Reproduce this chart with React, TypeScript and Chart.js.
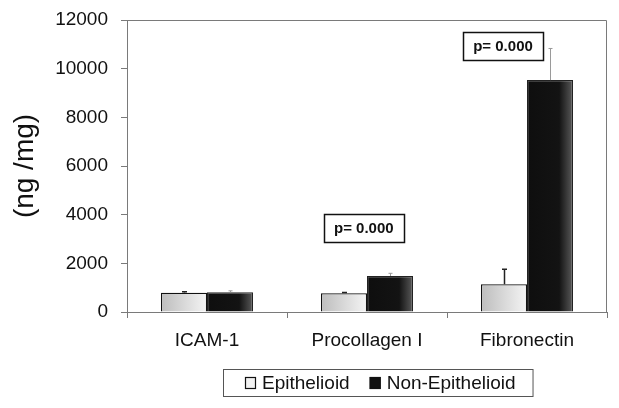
import React, { useEffect, useRef } from "react";
import { Chart, registerables } from "chart.js";

Chart.register(...registerables);

const categories = ["ICAM-1", "Procollagen I", "Fibronectin"];
const seriesNames = ["Epithelioid", "Non-Epithelioid"];
const epithelioid = [790, 770, 1140];
const nonEpithelioid = [810, 1480, 9530];
const epithelioidErr = [40, 35, 620];
const nonEpithelioidErr = [60, 110, 1300];
const yTickValues = [0, 2000, 4000, 6000, 8000, 10000, 12000];
const pLabels = ["p= 0.000", "p= 0.000"];
const pCategoryPos = [0.98, 1.85];
const pValuePos = [3450, 10930];

const FONT = "'Liberation Sans', Arial, Helvetica, sans-serif";
const CAT_PCT = 0.575;
const AXIS_COLOR = "#7a7a7a";

const epiStops: [number, string][] = [
  [0, "#bdbdbd"],
  [1, "#f4f4f4"],
];
const nonStops: [number, string][] = [
  [0, "#0e0e0e"],
  [0.7, "#131313"],
  [1, "#5a5a5a"],
];

function barGradient(ctx: any, stops: [number, string][]) {
  const chart = ctx.chart;
  const xs = chart.scales && chart.scales.x;
  if (!chart.chartArea || !xs || ctx.type !== "data") return stops[0][1];
  const center = xs.getPixelForValue(ctx.dataIndex);
  const band = xs.width / categories.length;
  const groupW = band * CAT_PCT;
  const barW = groupW / 2;
  const left = center - groupW / 2 + ctx.datasetIndex * barW;
  const g = chart.ctx.createLinearGradient(left, 0, left + barW, 0);
  stops.forEach(([o, c]) => g.addColorStop(o, c));
  return g;
}

const errors = [epithelioidErr, nonEpithelioidErr];
const values = [epithelioid, nonEpithelioid];

const errorBarPlugin = {
  id: "errorBars",
  afterDatasetsDraw(chart: any) {
    const ctx = chart.ctx;
    const ys = chart.scales.y;
    ctx.save();
    chart.data.datasets.forEach((_: any, di: number) => {
      const meta = chart.getDatasetMeta(di);
      meta.data.forEach((el: any, i: number) => {
        const top = ys.getPixelForValue(values[di][i] + errors[di][i]);
        const x = Math.round(el.x) + 0.5;
        ctx.strokeStyle = di === 0 ? "#222222" : "#9a9a9a";
        ctx.lineWidth = di === 0 ? 1.5 : 1;
        ctx.beginPath();
        ctx.moveTo(x, el.y);
        ctx.lineTo(x, top);
        const cap = di === 0 ? 2.5 : 2;
        ctx.moveTo(x - cap, top);
        ctx.lineTo(x + cap, top);
        ctx.stroke();
      });
    });
    ctx.restore();
  },
};

const framePlugin = {
  id: "frame",
  afterDraw(chart: any) {
    const { left, right, top, bottom } = chart.chartArea;
    const ctx = chart.ctx;
    ctx.save();
    ctx.strokeStyle = AXIS_COLOR;
    ctx.lineWidth = 1;
    ctx.beginPath();
    ctx.moveTo(left, top + 0.5);
    ctx.lineTo(right - 0.5, top + 0.5);
    ctx.lineTo(right - 0.5, bottom);
    ctx.stroke();
    ctx.restore();
  },
};

const annotationPlugin = {
  id: "pAnnotations",
  afterDraw(chart: any) {
    const ctx = chart.ctx;
    const xs = chart.scales.x;
    const ys = chart.scales.y;
    ctx.save();
    pLabels.forEach((label, i) => {
      const cx = xs.getPixelForValue(pCategoryPos[i]);
      const cy = ys.getPixelForValue(pValuePos[i]);
      const w = 80;
      const h = 28;
      ctx.fillStyle = "#ffffff";
      ctx.fillRect(cx - w / 2, cy - h / 2, w, h);
      ctx.strokeStyle = "#111111";
      ctx.lineWidth = 1.5;
      ctx.strokeRect(Math.round(cx - w / 2) + 0.5, Math.round(cy - h / 2) + 0.5, w, h);
      ctx.fillStyle = "#111111";
      ctx.font = `bold 15px ${FONT}`;
      ctx.textAlign = "center";
      ctx.textBaseline = "middle";
      ctx.fillText(label, cx, cy + 1);
    });
    ctx.restore();
  },
};

const legendPlugin = {
  id: "boxLegend",
  afterDraw(chart: any) {
    const ctx = chart.ctx;
    const area = chart.chartArea;
    ctx.save();
    ctx.font = `19px ${FONT}`;
    const marker = 11;
    const gap = 6;
    const itemGap = 20;
    const padL = 22;
    const padR = 17;
    const widths = seriesNames.map((n) => ctx.measureText(n).width);
    const content = widths.reduce((a, w) => a + marker + gap + w, 0) + itemGap;
    const boxW = padL + content + padR;
    const boxH = 27;
    const cxBox = (area.left + area.right) / 2 + 11;
    const left = Math.round(cxBox - boxW / 2);
    const top = area.bottom + 57;
    ctx.fillStyle = "#ffffff";
    ctx.fillRect(left, top, boxW, boxH);
    ctx.strokeStyle = "#555555";
    ctx.lineWidth = 1;
    ctx.strokeRect(left + 0.5, top + 0.5, boxW, boxH);
    let x = left + padL;
    const midY = top + boxH / 2;
    const fills = ["#f2f2f2", "#111111"];
    seriesNames.forEach((n, i) => {
      ctx.fillStyle = fills[i];
      ctx.fillRect(x, midY - marker / 2, marker, marker + 1);
      ctx.strokeStyle = "#111111";
      ctx.lineWidth = 1.2;
      ctx.strokeRect(x + 0.5, midY - marker / 2 + 0.5, marker - 1, marker);
      x += marker + gap;
      ctx.fillStyle = "#111111";
      ctx.textAlign = "left";
      ctx.textBaseline = "middle";
      ctx.fillText(n, x, midY + 1);
      x += widths[i] + itemGap;
    });
    ctx.restore();
  },
};

export default function App() {
  const canvasRef = useRef<HTMLCanvasElement | null>(null);

  useEffect(() => {
    if (!canvasRef.current) return;
    const chart = new Chart(canvasRef.current, {
      type: "bar",
      data: {
        labels: categories,
        datasets: [
          {
            label: seriesNames[0],
            data: epithelioid,
            backgroundColor: (c: any) => barGradient(c, epiStops),
            borderColor: "#111111",
            borderWidth: 1.2,
            categoryPercentage: CAT_PCT,
            barPercentage: 1,
          },
          {
            label: seriesNames[1],
            data: nonEpithelioid,
            backgroundColor: (c: any) => barGradient(c, nonStops),
            borderColor: "#222222",
            borderWidth: 1.2,
            categoryPercentage: CAT_PCT,
            barPercentage: 1,
          },
        ],
      },
      options: {
        animation: false,
        responsive: true,
        maintainAspectRatio: false,
        layout: { padding: { top: 12, right: 4, bottom: 48, left: 0 } },
        plugins: {
          legend: { display: false },
          tooltip: { enabled: false },
        },
        scales: {
          x: {
            afterFit: (s: any) => {
              s.height = 40;
              s.paddingLeft = 0;
              s.paddingRight = 0;
            },
            grid: {
              display: true,
              drawOnChartArea: false,
              drawTicks: true,
              tickLength: 6,
              color: AXIS_COLOR,
              offset: true,
            },
            border: { display: true, color: AXIS_COLOR, width: 1 },
            ticks: {
              color: "#111111",
              padding: 11,
              font: { family: FONT, size: 19 },
              maxRotation: 0,
            },
          },
          y: {
            min: 0,
            max: 12000,
            afterFit: (s: any) => {
              s.width = 119;
              s.paddingTop = 0;
              s.paddingBottom = 0;
            },
            afterBuildTicks: (s: any) => {
              s.ticks = yTickValues.map((v) => ({ value: v }));
            },
            grid: {
              display: true,
              drawOnChartArea: false,
              drawTicks: true,
              tickLength: 6,
              color: AXIS_COLOR,
            },
            border: { display: true, color: AXIS_COLOR, width: 1 },
            ticks: {
              color: "#111111",
              padding: 13,
              font: { family: FONT, size: 19 },
              callback: (v: any) => String(v),
            },
            title: {
              display: true,
              text: "(ng /mg)",
              color: "#111111",
              font: { family: FONT, size: 28 },
              padding: { top: 0, bottom: 0 },
            },
          },
        },
      },
      plugins: [errorBarPlugin, framePlugin, annotationPlugin, legendPlugin],
    });
    return () => chart.destroy();
  }, []);

  return (
    <div style={{ width: 603, height: 392, position: "relative" }}>
      <canvas ref={canvasRef} />
    </div>
  );
}
